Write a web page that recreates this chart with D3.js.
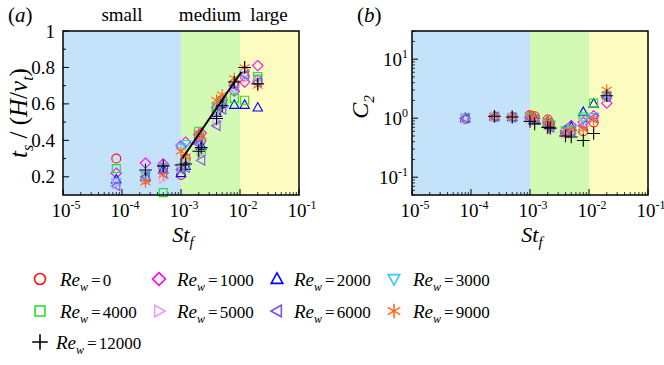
<!DOCTYPE html>
<html><head><meta charset="utf-8">
<script src="https://cdn.jsdelivr.net/npm/d3@7"></script>
<style>body{margin:0;background:#fff}svg{display:block}</style>
</head><body><svg id="c" width="664" height="365"></svg>
<script>
// ---------- data ----------
const stF = [8e-5, 2.5e-4, 5e-4, 1.0e-3, 1.2e-3, 2.0e-3, 2.2e-3, 4.0e-3, 5.0e-3, 8.0e-3, 1.2e-2, 2.0e-2];
const seriesNames = ["0","1000","2000","3000","4000","5000","6000","9000","12000"];
const seriesColors = ["#ff1010","#ff00ff","#0000ff","#33c8ff","#22e022","#e89cf4","#7a52f0","#ff6a1a","#000000"];
const seriesShapes = ["circle","diamond","triUp","triDown","square","triRight","triLeft","asterisk","plus"];
// t_s/(H/v_t), one row per Re_w
const ts0     = [0.30, 0.185, 0.25, 0.21, 0.30, 0.41, 0.40, 0.56, 0.60, 0.71, 0.75, 0.73];
const ts1000  = [0.22, 0.275, 0.27, 0.37, 0.39, 0.43, 0.44, 0.58, 0.62, 0.67, 0.72, 0.81];
const ts2000  = [0.185,0.20, 0.24, 0.22, 0.26, 0.40, 0.37, 0.55, 0.60, 0.595,0.595,0.58];
const ts3000  = [0.17, 0.21, 0.25, 0.36, 0.38, 0.42, 0.39, 0.56, 0.61, 0.68, 0.76, 0.74];
const ts4000  = [0.245,0.20, 0.113,0.25, 0.27, 0.45, 0.34, 0.58, 0.62, 0.63, 0.62, 0.75];
const ts5000  = [0.16, 0.19, 0.19, 0.25, 0.28, 0.40, 0.32, 0.50, 0.58, 0.69, 0.74, 0.72];
const ts6000  = [0.15, 0.20, 0.22, 0.24, 0.25, 0.38, 0.29, 0.48, 0.57, 0.70, 0.76, 0.72];
const ts9000  = [null, 0.17, 0.21, 0.34, 0.31, 0.44, 0.42, 0.62, 0.65, 0.74, 0.80, 0.70];
const ts12000 = [null, 0.237,0.26, 0.265,0.27, 0.34, 0.36, 0.52, 0.59, 0.72, 0.80, 0.71];
// C_2, one row per Re_w
const c0     = [0.97, 1.05, 1.03, 1.12, 1.08, 0.95, 0.82, 0.62, 0.62, 0.60, 0.85, 2.3];
const c1000  = [1.00, 1.07, 1.05, 1.05, 1.00, 0.88, 0.70, 0.60, 0.75, 0.85, 1.10, 1.8];
const c2000  = [1.00, 1.07, 1.05, 1.03, 0.98, 0.85, 0.75, 0.62, 0.72, 1.28, 1.77, 2.5];
const c3000  = [1.02, 1.05, 1.00, 1.05, 0.95, 0.86, 0.78, 0.62, 0.65, 0.95, 1.05, 2.4];
const c4000  = [1.00, 1.06, 1.04, 1.04, 0.96, 0.84, 0.75, 0.58, 0.62, 1.05, 1.80, 2.4];
const c5000  = [0.98, 1.05, 1.02, 0.98, 0.92, 0.80, 0.65, 0.55, 0.58, 0.80, 1.00, 2.2];
const c6000  = [1.00, 1.06, 1.03, 1.00, 0.95, 0.82, 0.70, 0.56, 0.60, 0.75, 1.00, 2.3];
const c9000  = [null, 1.08, 1.05, 1.08, 1.02, 0.88, 0.78, 0.55, 0.62, 0.65, 0.95, 3.0];
const c12000 = [null, 1.08, 1.05, 0.88, 0.80, 0.70, 0.68, 0.50, 0.48, 0.42, 0.55, 2.4];
const tsRows = [ts0, ts1000, ts2000, ts3000, ts4000, ts5000, ts6000, ts9000, ts12000];
const c2Rows = [c0, c1000, c2000, c3000, c4000, c5000, c6000, c9000, c12000];
// fit line (panel a)
const fitSt = [1.05e-3, 1.05e-2];
const fitTs = [0.30, 0.775];
// axes
const xDecades = [-5, -4, -3, -2, -1];
const yTicksA = [0.2, 0.4, 0.6, 0.8, 1];
const yLabelsA = ["0.2", "0.4", "0.6", "0.8", "1"];
const yDecadesB = [-1, 0, 1];
const regionBounds = [1e-5, 1e-3, 1e-2, 1e-1];
const regionColors = ["#c4e2fa", "#d2fab4", "#fdfdc2"];
const regionNames = ["small", "medium", "large"];

// ---------- drawing ----------
const svg = d3.select("#c").style("font-family", "'Liberation Serif', Tinos, serif");
function shapePath(shape, s) {
  const p = d3.path();
  switch (shape) {
    case "circle": p.arc(0, 0, s * 0.95, 0, 2 * Math.PI); break;
    case "square": p.rect(-s * 0.85, -s * 0.85, s * 1.7, s * 1.7); break;
    case "diamond": p.moveTo(0, -s * 1.1); p.lineTo(s * 1.1, 0); p.lineTo(0, s * 1.1); p.lineTo(-s * 1.1, 0); p.closePath(); break;
    case "triUp": p.moveTo(0, -s * 1.05); p.lineTo(s, s * 0.75); p.lineTo(-s, s * 0.75); p.closePath(); break;
    case "triDown": p.moveTo(0, s * 1.05); p.lineTo(s, -s * 0.75); p.lineTo(-s, -s * 0.75); p.closePath(); break;
    case "triRight": p.moveTo(s * 1.05, 0); p.lineTo(-s * 0.75, s); p.lineTo(-s * 0.75, -s); p.closePath(); break;
    case "triLeft": p.moveTo(-s * 1.05, 0); p.lineTo(s * 0.75, s); p.lineTo(s * 0.75, -s); p.closePath(); break;
    case "plus": p.moveTo(-s * 1.35, 0); p.lineTo(s * 1.35, 0); p.moveTo(0, -s * 1.35); p.lineTo(0, s * 1.35); break;
    case "asterisk":
      for (const a of [90, 30, 150]) {
        const r = a * Math.PI / 180, dx = Math.cos(r) * s * 1.25, dy = Math.sin(r) * s * 1.25;
        p.moveTo(-dx, -dy); p.lineTo(dx, dy);
      }
      break;
  }
  return p.toString();
}
function drawMarker(g, shape, color, x, y, s, w) {
  g.append("path").attr("d", shapePath(shape, s)).attr("transform", `translate(${x},${y})`)
    .attr("fill", "none").attr("stroke", color).attr("stroke-width", w);
}
function sup(sel, base, exp, size) {
  sel.append("tspan").text(base);
  sel.append("tspan").attr("font-size", size * 0.63).attr("dy", -size * 0.42).text(exp);
}

const plotTop = 31, plotBottom = 195;
function panel(x0, x1, yScale, rows, drawY) {
  const x = d3.scaleLog().domain([1e-5, 1e-1]).range([x0, x1]);
  const g = svg.append("g");
  for (let i = 0; i < 3; i++) {
    g.append("rect").attr("x", x(regionBounds[i])).attr("y", plotTop)
      .attr("width", x(regionBounds[i + 1]) - x(regionBounds[i])).attr("height", plotBottom - plotTop)
      .attr("fill", regionColors[i]);
  }
  const tk = g.append("g").attr("stroke", "#000").attr("stroke-width", 1);
  xDecades.forEach(d => {
    const v = Math.pow(10, d);
    tk.append("line").attr("x1", x(v)).attr("x2", x(v)).attr("y1", plotBottom).attr("y2", plotBottom - 6);
    if (d < -1) for (let m = 2; m <= 9; m++) {
      const xm = x(m * v);
      tk.append("line").attr("x1", xm).attr("x2", xm).attr("y1", plotBottom).attr("y2", plotBottom - 3).attr("stroke", "#333");
    }
    const t = g.append("text").attr("x", x(v) + 3).attr("y", 217).attr("text-anchor", "middle").attr("font-size", 19);
    sup(t, "10", "-" + (-d), 19);
  });
  drawY(g, tk);
  rows.forEach((row, si) => {
    row.forEach((v, j) => {
      if (v == null) return;
      drawMarker(g, seriesShapes[si], seriesColors[si], x(stF[j]), yScale(v), 4.7, 1.1);
    });
  });
  g.append("rect").attr("x", x0).attr("y", plotTop).attr("width", x1 - x0).attr("height", plotBottom - plotTop)
    .attr("fill", "none").attr("stroke", "#000").attr("stroke-width", 1.5);
  const xl = g.append("text").attr("x", (x0 + x1) / 2 + 2).attr("y", 242).attr("text-anchor", "middle")
    .attr("font-size", 22).attr("font-style", "italic");
  xl.append("tspan").text("St");
  xl.append("tspan").attr("font-size", 15).attr("dy", 5).text("f");
  return { x, g };
}

// Panel (a)
const yA = d3.scaleLinear().domain([0.1, 1]).range([plotBottom, plotTop]);
const pa = panel(63, 299, yA, tsRows, (g, tk) => {
  yTicksA.forEach((v, i) => {
    tk.append("line").attr("x1", 63).attr("x2", 69).attr("y1", yA(v)).attr("y2", yA(v));
    g.append("text").attr("x", 55).attr("y", yA(v) + 6.5).attr("text-anchor", "end").attr("font-size", 19).text(yLabelsA[i]);
  });
  [0.3, 0.5, 0.7, 0.9].forEach(v => tk.append("line").attr("x1", 63).attr("x2", 66).attr("y1", yA(v)).attr("y2", yA(v)));
});
pa.g.append("path").attr("d", d3.line().x(d => pa.x(d)).y((d, i) => yA(fitTs[i]))(fitSt))
  .attr("stroke", "#000").attr("stroke-width", 2).attr("fill", "none");
regionNames.forEach((n, i) => {
  const cx = [122, 210, 269][i];
  svg.append("text").attr("x", cx).attr("y", 21).attr("text-anchor", "middle").attr("font-size", 19).text(n);
});
const yla = svg.append("text").attr("transform", "translate(27,113) rotate(-90)").attr("text-anchor", "middle")
  .attr("font-size", 25);
yla.append("tspan").attr("font-style", "italic").text("t");
yla.append("tspan").attr("font-size", 16).attr("dy", 6).attr("font-style", "italic").text("s");
yla.append("tspan").attr("dy", -6).text(" / (");
yla.append("tspan").attr("font-style", "italic").text("H");
yla.append("tspan").text("/");
yla.append("tspan").attr("font-style", "italic").text("v");
yla.append("tspan").attr("font-size", 16).attr("dy", 6).attr("font-style", "italic").text("t");
yla.append("tspan").attr("dy", -6).text(")");
const ta = svg.append("text").attr("x", 8).attr("y", 22).attr("font-size", 21);
ta.append("tspan").text("("); ta.append("tspan").attr("font-style", "italic").text("a"); ta.append("tspan").text(")");

// Panel (b)
const yB = d3.scaleLog().domain([0.05, 30]).range([plotBottom, plotTop]);
panel(412, 648, yB, c2Rows, (g, tk) => {
  yDecadesB.forEach(d => {
    const v = Math.pow(10, d);
    tk.append("line").attr("x1", 412).attr("x2", 418).attr("y1", yB(v)).attr("y2", yB(v));
    const t = g.append("text").attr("x", 408).attr("y", yB(v) + 7).attr("text-anchor", "end").attr("font-size", 19);
    sup(t, "10", String(d), 19);
  });
  [-2, -1, 0, 1].forEach(d => {
    for (let m = 2; m <= 9; m++) {
      const v = m * Math.pow(10, d);
      if (v < 0.05 || v > 30) continue;
      tk.append("line").attr("x1", 412).attr("x2", 415).attr("y1", yB(v)).attr("y2", yB(v)).attr("stroke", "#333");
    }
  });
});
const ylb = svg.append("text").attr("transform", "translate(368,107) rotate(-90)").attr("text-anchor", "middle").attr("font-size", 24).attr("font-style", "italic");
ylb.append("tspan").text("C");
ylb.append("tspan").attr("font-size", 15).attr("dy", 6).text("2");
const tb = svg.append("text").attr("x", 357).attr("y", 22).attr("font-size", 21);
tb.append("tspan").text("("); tb.append("tspan").attr("font-style", "italic").text("b"); tb.append("tspan").text(")");

// Legend
const legPos = [[40,60,279],[159,177,279],[277,294,279],[394,413,279],[40,60,311],[159,177,311],[277,294,311],[394,413,311],[40,56,342]];
seriesNames.forEach((n, i) => {
  const [mx, tx, cy] = legPos[i];
  drawMarker(svg, seriesShapes[i], seriesColors[i], mx, cy, 5.8, 1.6);
  const t = svg.append("text").attr("x", tx).attr("y", cy + 7).attr("font-size", 19);
  t.append("tspan").attr("font-style", "italic").text("Re");
  t.append("tspan").attr("font-style", "italic").attr("font-size", 12).attr("dy", 5).text("w");
  t.append("tspan").attr("dy", -5).attr("dx", 3).attr("font-size", 17).text("=");
  t.append("tspan").attr("dx", 2).attr("font-size", 17).text(n);
});
</script></body></html>
